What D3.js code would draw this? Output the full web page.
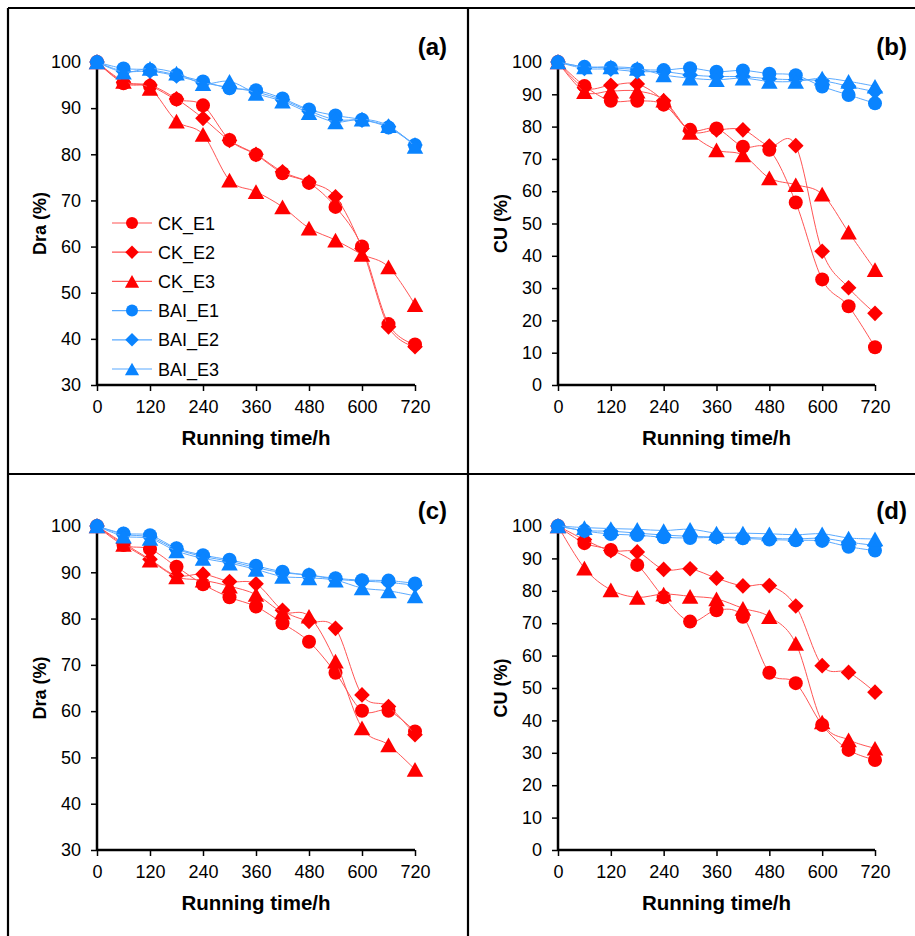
<!doctype html>
<html>
<head>
<meta charset="utf-8">
<style>
  body { margin: 0; background: #fff; }
  text { font-family: "Liberation Sans", Arial, sans-serif; }
</style>
</head>
<body>
  <svg id="chart"></svg>
<script src="https://d3js.org/d3.v7.min.js"></script>
<script>
// running time (h)
const hours = [0, 60, 120, 180, 240, 300, 360, 420, 480, 540, 600, 660, 720];
const seriesNames = ["CK_E1", "CK_E2", "CK_E3", "BAI_E1", "BAI_E2", "BAI_E3"];

// (a) Dra (%)
const ckE1_a = [100, 95.4, 94.8, 91.9, 90.6, 83.1, 79.9, 75.9, 73.8, 68.6, 60.0, 43.2, 38.8];
const ckE2_a = [100, 95.6, 95.0, 92.0, 87.8, 83.0, 80.0, 76.2, 74.0, 70.8, 59.6, 42.6, 38.3];
const ckE3_a = [100, 95.8, 94.3, 87.2, 84.3, 74.4, 71.9, 68.6, 64.0, 61.4, 58.3, 55.6, 47.4];
const baiE1_a = [100, 98.6, 98.3, 97.2, 95.8, 94.3, 93.9, 92.1, 89.7, 88.4, 87.5, 85.8, 82.0];
const baiE2_a = [100, 98.0, 98.0, 97.0, 95.5, 94.5, 93.5, 91.8, 89.4, 87.5, 87.4, 86.0, 82.0];
const baiE3_a = [100, 97.8, 98.6, 97.6, 95.3, 95.8, 93.2, 91.5, 89.0, 87.0, 87.6, 86.2, 81.7];

// (b) CU (%)
const ckE1_b = [100, 92.6, 88.0, 88.0, 86.8, 79.0, 79.4, 73.8, 72.8, 56.5, 32.7, 24.4, 11.7];
const ckE2_b = [100, 92.0, 92.8, 93.2, 88.0, 78.6, 79.0, 79.0, 74.0, 74.1, 41.4, 30.1, 22.2];
const ckE3_b = [100, 90.8, 91.0, 91.0, 88.2, 78.2, 72.8, 71.2, 64.1, 62.0, 59.1, 47.3, 35.7];
const baiE1_b = [100, 98.5, 98.2, 97.7, 97.5, 98.1, 97.0, 97.4, 96.4, 95.9, 92.4, 89.8, 87.2];
const baiE2_b = [100, 98.0, 97.8, 97.0, 97.0, 96.0, 95.5, 95.5, 94.8, 94.5, 94.2, 92.5, 90.8];
const baiE3_b = [100, 98.5, 98.5, 98.0, 96.0, 95.0, 94.5, 95.0, 94.0, 94.0, 95.0, 94.0, 92.5];

// (c) Dra (%)
const ckE1_c = [100, 95.9, 95.0, 91.2, 87.4, 84.6, 82.6, 79.0, 75.0, 68.3, 60.1, 60.1, 55.6];
const ckE2_c = [100, 96.3, 92.8, 89.3, 89.6, 88.0, 87.5, 81.8, 79.4, 77.9, 63.5, 61.0, 54.9];
const ckE3_c = [100, 96.0, 92.6, 89.0, 88.3, 87.0, 85.2, 81.4, 80.5, 70.8, 56.4, 52.7, 47.4];
const baiE1_c = [100, 98.4, 98.0, 95.2, 93.7, 92.7, 91.4, 90.1, 89.4, 88.7, 88.3, 88.2, 87.6];
const baiE2_c = [100, 98.2, 97.6, 95.0, 93.4, 92.4, 91.0, 89.9, 89.4, 88.5, 88.1, 87.8, 87.2];
const baiE3_c = [100, 97.8, 97.3, 94.6, 93.0, 92.0, 90.6, 89.1, 88.8, 88.3, 86.6, 86.0, 84.9];

// (d) CU (%)
const ckE1_d = [100, 94.7, 92.6, 88.0, 78.0, 70.5, 74.0, 72.0, 54.7, 51.5, 38.6, 30.9, 27.8];
const ckE2_d = [100, 95.8, 92.4, 92.0, 86.6, 86.8, 83.9, 81.5, 81.6, 75.3, 56.9, 54.8, 48.7];
const ckE3_d = [100, 87.0, 80.3, 78.0, 79.0, 78.3, 77.5, 74.6, 72.0, 63.8, 39.5, 34.0, 31.4];
const baiE1_d = [100, 98.5, 97.5, 97.2, 96.5, 96.3, 96.5, 96.2, 95.8, 95.6, 95.4, 93.6, 92.4];
const baiE2_d = [100, 98.6, 98.4, 97.8, 97.2, 96.8, 96.6, 96.5, 96.2, 96.0, 96.2, 95.0, 94.0];
const baiE3_d = [100, 99.5, 99.2, 99.0, 98.6, 99.0, 97.8, 97.8, 97.6, 97.3, 97.6, 96.3, 96.0];

const xTicks = [0, 120, 240, 360, 480, 600, 720];

const W = 915, H = 936;
const svg = d3.select("#chart").attr("width", W).attr("height", H);

const panels = [
  { label: "(a)", left: 97, right: 415, top: 62, bottom: 385, yDomain: [30, 100], yTitle: "Dra (%)",
    data: [ckE1_a, ckE2_a, ckE3_a, baiE1_a, baiE2_a, baiE3_a], legend: true },
  { label: "(b)", left: 558, right: 875, top: 62, bottom: 385, yDomain: [0, 100], yTitle: "CU (%)",
    data: [ckE1_b, ckE2_b, ckE3_b, baiE1_b, baiE2_b, baiE3_b] },
  { label: "(c)", left: 97, right: 415, top: 526, bottom: 850, yDomain: [30, 100], yTitle: "Dra (%)",
    data: [ckE1_c, ckE2_c, ckE3_c, baiE1_c, baiE2_c, baiE3_c] },
  { label: "(d)", left: 558, right: 875, top: 526, bottom: 850, yDomain: [0, 100], yTitle: "CU (%)",
    data: [ckE1_d, ckE2_d, ckE3_d, baiE1_d, baiE2_d, baiE3_d] }
];

const red = "#ff0000", redLine = "#ff5555";
const blue = "#0a84ff", blueLine = "#5aaaff";
const styles = [
  { fill: red, line: redLine, shape: "circle" },
  { fill: red, line: redLine, shape: "diamond" },
  { fill: red, line: redLine, shape: "triangle" },
  { fill: blue, line: blueLine, shape: "circle" },
  { fill: blue, line: blueLine, shape: "diamond" },
  { fill: blue, line: blueLine, shape: "triangle" }
];

function markerPath(shape, s) {
  if (shape === "circle") {
    return `M${s},0A${s},${s},0,1,1,${-s},0A${s},${s},0,1,1,${s},0Z`;
  }
  if (shape === "diamond") {
    const d = s * 1.12;
    return `M0,${-d}L${d},0L0,${d}L${-d},0Z`;
  }
  const w = s * 1.18, h = s * 1.05;
  return `M0,${-h}L${w},${h}L${-w},${h}Z`;
}

// frame lines
const frame = svg.append("g").attr("stroke", "#000").attr("stroke-width", 2.2);
frame.append("line").attr("x1", 8).attr("y1", 8).attr("x2", 8).attr("y2", H);
frame.append("line").attr("x1", 8).attr("y1", 8).attr("x2", W).attr("y2", 8);
frame.append("line").attr("x1", 468).attr("y1", 8).attr("x2", 468).attr("y2", H);
frame.append("line").attr("x1", 8).attr("y1", 474).attr("x2", W).attr("y2", 474);

panels.forEach(p => {
  const g = svg.append("g");
  const x = d3.scaleLinear().domain([0, 720]).range([p.left, p.right]);
  const y = d3.scaleLinear().domain(p.yDomain).range([p.bottom, p.top]);

  const yAxis = g.append("g").attr("transform", `translate(${p.left},0)`)
    .call(d3.axisLeft(y).ticks(p.yDomain[1] - p.yDomain[0] > 80 ? 10 : 7).tickSize(6).tickPadding(10));
  const xAxis = g.append("g").attr("transform", `translate(0,${p.bottom})`)
    .call(d3.axisBottom(x).tickValues(xTicks).tickSize(6).tickPadding(9));
  [xAxis, yAxis].forEach(a => {
    a.select(".domain").attr("stroke", "#000").attr("stroke-width", 2.5);
    a.selectAll(".tick line").attr("stroke", "#000").attr("stroke-width", 1.5);
    a.selectAll(".tick text").attr("fill", "#000").style("font-size", "18px")
      .style("font-family", "'Liberation Sans', Arial, sans-serif");
  });
  // plain axis lines, no end caps
  yAxis.select(".domain").attr("d", `M0,${p.bottom}V${p.top}`);
  xAxis.select(".domain").attr("d", `M${p.left},0H${p.right}`);

  g.append("text").attr("transform", `translate(${p.left - 51},${(p.top + p.bottom) / 2}) rotate(-90)`)
    .attr("text-anchor", "middle").attr("font-weight", "bold").attr("font-size", 18).text(p.yTitle);
  g.append("text").attr("x", (p.left + p.right) / 2).attr("y", p.bottom + 60)
    .attr("text-anchor", "middle").attr("font-weight", "bold").attr("font-size", 20.5).text("Running time/h");
  g.append("text").attr("x", p.right + 32).attr("y", p.top - 7)
    .attr("text-anchor", "end").attr("font-weight", "bold").attr("font-size", 24).text(p.label);

  const line = d3.line().x((d, i) => x(hours[i])).y(d => y(d)).curve(d3.curveCardinal.tension(0));

  p.data.forEach((vals, si) => {
    const st = styles[si];
    g.append("path").datum(vals).attr("d", line)
      .attr("fill", "none").attr("stroke", st.line).attr("stroke-width", 1);
    g.append("g").selectAll("path").data(vals).join("path")
      .attr("transform", (d, i) => `translate(${x(hours[i])},${y(d)})`)
      .attr("d", markerPath(st.shape, 7))
      .attr("fill", st.fill);
  });

  if (p.legend) {
    const lg = g.append("g");
    seriesNames.forEach((name, i) => {
      const st = styles[i];
      const ly = 223 + i * 29.2;
      lg.append("line").attr("x1", 112).attr("x2", 152).attr("y1", ly).attr("y2", ly)
        .attr("stroke", st.line).attr("stroke-width", 1.2);
      lg.append("path").attr("transform", `translate(132,${ly})`)
        .attr("d", markerPath(st.shape, 6)).attr("fill", st.fill);
      lg.append("text").attr("x", 158).attr("y", ly + 6.5).attr("font-size", 18).text(name);
    });
  }
});
</script>
</body>
</html>
